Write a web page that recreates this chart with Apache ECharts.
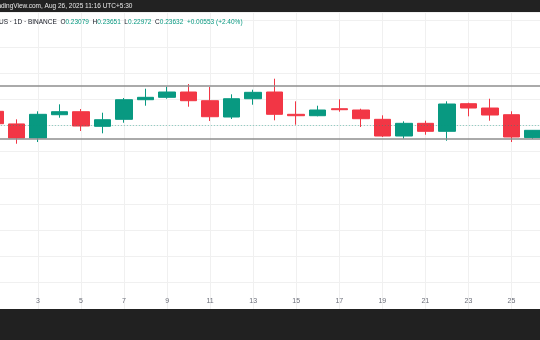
<!DOCTYPE html>
<html><head><meta charset="utf-8">
<script src="https://cdn.jsdelivr.net/npm/echarts@6/dist/echarts.min.js"></script>
<style>html,body{margin:0;padding:0;background:#fff}#c{width:540px;height:340px}</style>
</head><body><div id="c"></div>
<script>
// Days of August 2025 (day 27 is an empty slot at the right edge)
const days = ['1','2','3','4','5','6','7','8','9','10','11','12','13','14','15','16','17','18','19','20','21','22','23','24','25','26','27'];
// OHLC per day
const opens  = [0.25082,0.24120,0.23044,0.24823,0.25052,0.23937,0.24472,0.25968,0.26151,0.26556,0.25892,0.24647,0.26044,0.26556,0.24853,0.24747,0.25281,0.25182,0.24472,0.23197,0.24166,0.23556,0.25663,0.25334,0.24823,0.23079];
const highs  = [0.25334,0.24472,0.25082,0.25617,0.25258,0.24976,0.26098,0.26808,0.26960,0.27166,0.26937,0.26380,0.26731,0.27571,0.25846,0.25510,0.25998,0.25281,0.24777,0.24319,0.24365,0.25846,0.25739,0.26044,0.25082,0.23651];
const lows   = [0.23884,0.22609,0.22739,0.24594,0.23579,0.23403,0.24212,0.25510,0.26044,0.25434,0.24342,0.24495,0.25586,0.24395,0.24060,0.24701,0.25052,0.23884,0.23121,0.22991,0.23296,0.22838,0.24701,0.24365,0.22739,0.22972];
const closes = [0.24136,0.23044,0.24853,0.25052,0.23960,0.24441,0.25968,0.26151,0.26556,0.25892,0.24670,0.26044,0.26533,0.24853,0.24747,0.25182,0.25205,0.24518,0.23197,0.24166,0.23556,0.25640,0.25334,0.24800,0.23121,0.23632];
// Drawn horizontal levels and last price
const levels = [0.26685, 0.22869];
const lastPrice = 0.23632;
// Header texts
const headerTop = 'TradingView.com, Aug 26, 2025 11:16 UTC+5:30';
const symbolText = 'US · 1D · BINANCE';
const ohlcLabels = ['O','H','L','C'];
const ohlcValues = ['0.23079','0.23651','0.22972','0.23632'];
const changeText = '+0.00553 (+2.40%)';

const UP = '#089981', DOWN = '#F23645';
const FONT = 'Liberation Sans, Arial, sans-serif';
const candleData = days.map((d, i) => i < opens.length ? [opens[i], closes[i], lows[i], highs[i]] : '-');

let rich = '{s|' + symbolText + '}  ';
ohlcLabels.forEach((l, i) => { rich += '{k|' + l + '}{v|' + ohlcValues[i] + '}  '; });
rich += '{v|' + changeText + '}';

const chart = echarts.init(document.getElementById('c'), null, {renderer: 'canvas'});
chart.setOption({
  animation: false,
  backgroundColor: '#ffffff',
  grid: {left: -5.1, right: -14.5, top: 12, bottom: 31.1, containLabel: false, outerBoundsMode: 'none'},
  xAxis: {
    type: 'category', data: days, boundaryGap: false,
    axisLine: {show: true, lineStyle: {color: '#cfcfcf', width: 1}},
    axisTick: {show: false},
    axisLabel: {inside: true, interval: 1, margin: 4, fontSize: 7, color: '#6a6d78', fontFamily: FONT, hideOverlap: false},
    splitLine: {show: true, interval: 1, lineStyle: {color: '#f0f0f0', width: 1}}
  },
  yAxis: {
    type: 'value', min: 0.10, max: 0.32664, interval: 0.02,
    axisLine: {show: false}, axisTick: {show: false}, axisLabel: {show: false},
    splitLine: {show: true, lineStyle: {color: '#f0f0f0', width: 1}}
  },
  series: [{
    type: 'candlestick', data: candleData, barWidth: 17, clip: false,
    itemStyle: {color: UP, color0: DOWN, borderColor: UP, borderColor0: DOWN, borderWidth: 1},
    markLine: {
      silent: true, symbol: ['none','none'], label: {show: false},
      data: [
        {yAxis: levels[0], lineStyle: {color: '#8e8e8e', width: 1.5, type: 'solid'}},
        {yAxis: levels[1], lineStyle: {color: '#8e8e8e', width: 1.5, type: 'solid'}},
        {yAxis: lastPrice, lineStyle: {color: 'rgba(8,153,129,0.45)', width: 1, type: [1, 2]}}
      ]
    }
  }],
  graphic: [
    {type: 'rect', left: 0, top: 0, z: 100, shape: {width: 540, height: 12}, style: {fill: '#222222'}},
    {type: 'rect', left: 0, top: 309, z: 100, shape: {width: 540, height: 31}, style: {fill: '#212121'}},
    {type: 'text', left: -8.5, top: 2.8, z: 101, style: {text: headerTop, fill: '#e8e8e8', fontSize: 6.5, fontFamily: FONT}},
    {type: 'text', left: -1, top: 18.8, z: 101, style: {
      text: rich, fontSize: 6.5, fontFamily: FONT,
      rich: {
        s: {fill: '#131722', fontSize: 6.5, fontFamily: FONT},
        k: {fill: '#131722', fontSize: 6.5, fontFamily: FONT},
        v: {fill: UP, fontSize: 6.5, fontFamily: FONT}
      }
    }}
  ]
});
</script></body></html>
